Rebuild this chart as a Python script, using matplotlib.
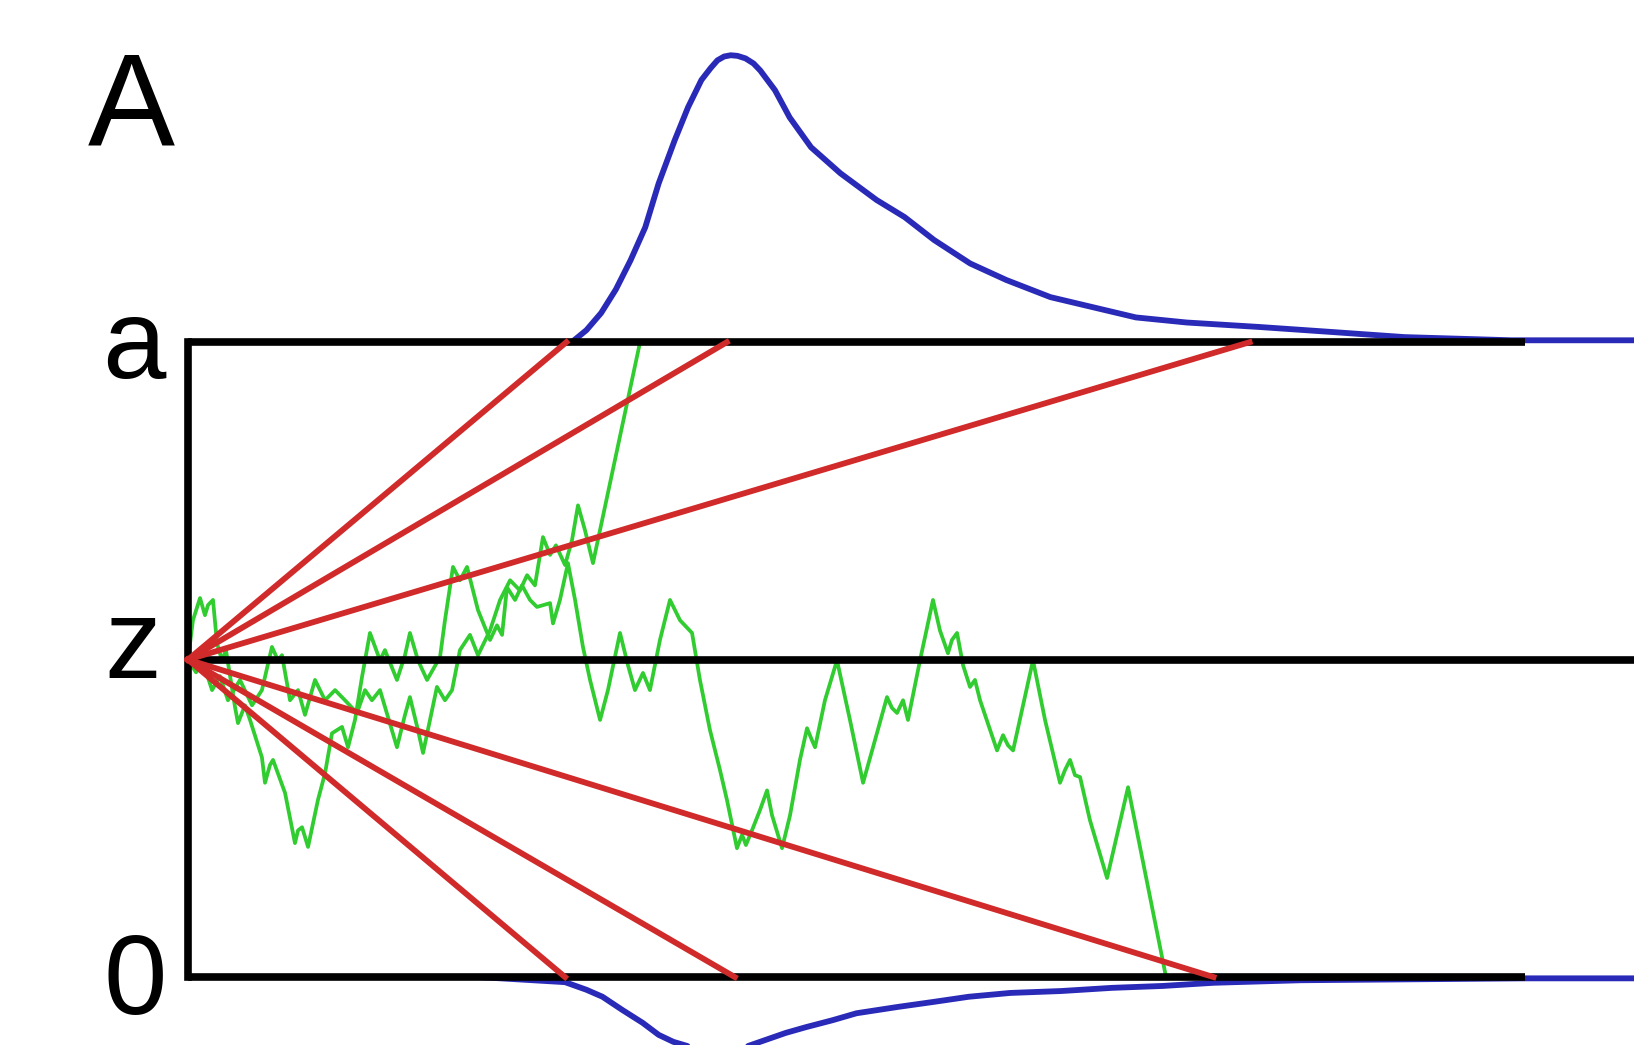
import matplotlib
matplotlib.use("Agg")
import matplotlib.pyplot as plt

plt.rcParams["font.family"] = ["Liberation Sans", "DejaVu Sans"]

# boundary separation and starting point (evidence units), time in ms
a = 1.0
z = 0.5
t_end = 1000

# drift lines: time at which each one reaches a boundary
upper_hits = [283, 403, 794]
lower_hits = [282, 409, 767]

# sample path that ends on the lower boundary
walk1_t = [0, 3.7, 9.0, 12.7, 15.0, 18.7, 21.7, 25.4, 28.4, 35.2, 37.4, 42.6, 46.4, 55.3, 57.6,
           61.3, 63.6, 72.6, 80.0, 82.3, 85.3, 89.8, 97.2, 102.5, 107.7, 115.2, 119.7, 124.9,
           130.1, 136.1, 143.6, 147.3, 156.3, 162.3, 166.0, 172.0, 178.8, 188.5, 192.2, 198.2,
           203.4, 208.7, 216.9, 225.9, 231.1, 234.9, 238.6, 244.6, 249.8, 255.8, 261.0, 270.8,
           273.0, 278.2, 284.2, 289.5, 295.4, 300.7, 308.2, 314.1, 323.1, 329.1, 334.3, 340.3,
           345.5, 353.0, 360.5, 368.0, 377.0, 382.9, 390.4, 397.9, 403.1, 410.6, 414.4, 417.3,
           421.8, 427.8, 433.1, 436.8, 444.3, 450.3, 457.7, 463.0, 466.7, 469.0, 476.4, 485.4,
           495.1, 504.9, 513.8, 522.8, 526.5, 530.3, 534.8, 538.5, 547.5, 557.2, 562.4, 568.4,
           571.4, 575.2, 579.7, 584.9, 588.6, 592.4, 605.1, 609.6, 613.3, 617.1, 632.0, 641.0,
           652.2, 655.9, 659.7, 663.4, 667.2, 674.6, 687.4, 703.1, 731.5]
walk1_x = [0.500, 0.562, 0.597, 0.570, 0.586, 0.594, 0.526, 0.499, 0.515, 0.425, 0.400, 0.428,
           0.405, 0.346, 0.306, 0.334, 0.342, 0.290, 0.211, 0.231, 0.236, 0.205, 0.279, 0.321,
           0.384, 0.394, 0.362, 0.405, 0.472, 0.542, 0.499, 0.515, 0.468, 0.507, 0.542, 0.499,
           0.468, 0.504, 0.562, 0.646, 0.625, 0.646, 0.578, 0.531, 0.554, 0.539, 0.614, 0.594,
           0.617, 0.594, 0.583, 0.589, 0.557, 0.594, 0.652, 0.594, 0.520, 0.468, 0.405, 0.452,
           0.542, 0.491, 0.452, 0.479, 0.452, 0.531, 0.594, 0.562, 0.542, 0.468, 0.389, 0.326,
           0.279, 0.203, 0.224, 0.208, 0.231, 0.263, 0.294, 0.255, 0.203, 0.255, 0.342, 0.392,
           0.373, 0.362, 0.436, 0.499, 0.405, 0.306, 0.373, 0.441, 0.424, 0.416, 0.436, 0.405,
           0.499, 0.594, 0.546, 0.510, 0.531, 0.542, 0.491, 0.457, 0.468, 0.436, 0.357, 0.381,
           0.365, 0.357, 0.499, 0.405, 0.306, 0.326, 0.342, 0.318, 0.315, 0.247, 0.156, 0.299,
           0.0]

# sample path that ends on the upper boundary
walk2_t = [0, 6.0, 11.2, 18.0, 23.9, 29.9, 38.9, 47.9, 55.3, 62.8, 67.3, 70.3, 76.3, 82.3, 87.5,
           95.0, 102.5, 110.0, 117.4, 126.4, 132.4, 137.6, 143.6, 156.3, 162.3, 166.0, 172.0,
           175.8, 181.0, 186.2, 192.2, 197.5, 203.4, 210.9, 216.9, 225.9, 233.4, 240.9, 248.3,
           253.6, 259.5, 265.5, 270.8, 275.2, 282.0, 287.2, 291.7, 296.9, 302.9, 338.1]
walk2_x = [0.500, 0.480, 0.496, 0.452, 0.474, 0.436, 0.468, 0.428, 0.452, 0.520, 0.499, 0.507,
           0.436, 0.452, 0.413, 0.468, 0.436, 0.452, 0.436, 0.416, 0.452, 0.436, 0.452, 0.362,
           0.413, 0.441, 0.389, 0.353, 0.405, 0.457, 0.436, 0.452, 0.515, 0.539, 0.507, 0.546,
           0.594, 0.625, 0.609, 0.633, 0.617, 0.693, 0.665, 0.680, 0.649, 0.688, 0.743, 0.704,
           0.652, 1.0]

# first-passage time densities drawn outside each boundary
top_t = [249, 287, 298, 309, 320, 331, 342, 352, 364, 374, 384, 391, 396, 401, 406, 411, 417,
         423, 428, 439, 450, 466, 488, 515, 536, 558, 585, 612, 645, 677, 709, 747, 801, 856,
         910, 990, 1082]
top_d = [0, 0, 0.019, 0.046, 0.083, 0.129, 0.181, 0.250, 0.318, 0.370, 0.413, 0.432, 0.444,
         0.450, 0.452, 0.451, 0.447, 0.439, 0.428, 0.397, 0.354, 0.307, 0.266, 0.224, 0.197,
         0.161, 0.124, 0.098, 0.071, 0.055, 0.039, 0.031, 0.024, 0.016, 0.008, 0.003, 0.003]
bot_t = [218, 282, 298, 310, 325, 340, 352, 363, 379, 388, 397, 407, 417, 432, 447, 462, 482,
         500, 531, 558, 584, 615, 653, 691, 729, 767, 832, 1000, 1082]
bot_d = [0, 0.008, 0.020, 0.031, 0.052, 0.072, 0.091, 0.102, 0.112, 0.114, 0.115, 0.114, 0.110,
         0.099, 0.088, 0.079, 0.068, 0.057, 0.047, 0.039, 0.031, 0.025, 0.022, 0.017, 0.014,
         0.009, 0.005, 0.002, 0.002]

red = "#d12a2a"
green = "#30cc30"
blue = "#2a2ab8"

fig = plt.figure(figsize=(16.34, 10.45), dpi=100)
ax = fig.add_axes([0, 0, 1, 1])
ax.set_xlim(-140.6, 1081.5)
ax.set_ylim(-0.107, 1.539)
ax.axis("off")

# densities
for t, d in [(top_t, [a + v for v in top_d]), (bot_t, [-v for v in bot_d])]:
    ax.plot(t, d, color=blue, lw=4.2, zorder=1, solid_joinstyle="round", solid_capstyle="round")

# random walks
ax.plot(walk1_t, walk1_x, color=green, lw=2.7, zorder=2, solid_joinstyle="round")
ax.plot(walk2_t, walk2_x, color=green, lw=2.7, zorder=2, solid_joinstyle="round")

# boundaries
ax.plot([0, t_end], [a, a], color="black", lw=5.5, zorder=3, solid_capstyle="butt")
ax.plot([0, t_end], [0, 0], color="black", lw=5.5, zorder=3, solid_capstyle="butt")
ax.plot([0, 0], [0, a], color="black", lw=5.5, zorder=3, solid_capstyle="projecting")
ax.plot([0, 1082], [z, z], color="black", lw=5.5, zorder=3, solid_capstyle="butt")

# drift rates
for t in upper_hits:
    ax.plot([0, t], [z, a], color=red, lw=4.2, zorder=4)
for t in lower_hits:
    ax.plot([0, t], [z, 0], color=red, lw=4.2, zorder=4)

ax.text(-42.6, 1.310, "A", fontsize=94, ha="center", va="baseline")
ax.text(-40.4, 0.943, "a", fontsize=82, ha="center", va="baseline")
ax.text(-41.1, 0.471, "z", fontsize=82, ha="center", va="baseline")
ax.text(-39.6, -0.058, "0", fontsize=82, ha="center", va="baseline")

fig.savefig("out.png", dpi=100)
